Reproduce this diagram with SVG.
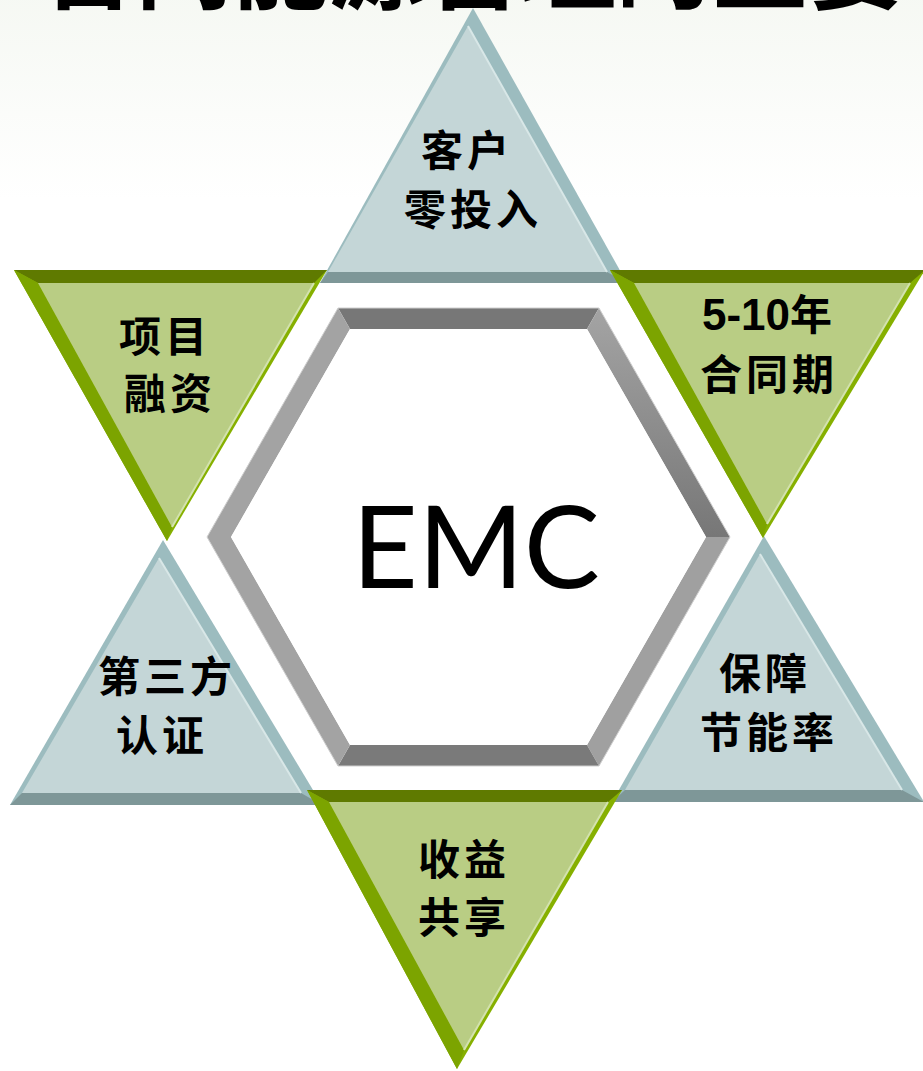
<svg xmlns="http://www.w3.org/2000/svg" width="923" height="1071" viewBox="0 0 923 1071">
<style>
.tf{fill:#c4d6d7}
.tb{fill:#9cbcbf}
.tbase{fill:#7e9798}
.thl{stroke:#d8e7e7;stroke-width:2;fill:none}
.gf{fill:#b9cd84}
.gr{fill:#86b000}
.gl{fill:#7ca400}
.gt{fill:#5f7a00}
.ghl{stroke:#d3e2ae;stroke-width:2;fill:none}
.lbl{font-family:"Noto Sans CJK SC","Noto Sans CJK TC",sans-serif;font-weight:bold;font-size:42px;letter-spacing:4px;fill:#000;text-anchor:middle}
.num{font-family:"Liberation Sans",Arial,sans-serif;font-weight:bold;font-size:44px;letter-spacing:0}
.title{font-family:"Noto Sans CJK SC",sans-serif;font-weight:bold;font-size:96px;fill:#000}
</style>
<defs>
<linearGradient id="bg" x1="0" y1="0" x2="0" y2="1">
<stop offset="0" stop-color="#eef3ea"/>
<stop offset="1" stop-color="#ffffff"/>
</linearGradient>
<linearGradient id="ur" x1="0" y1="0" x2="0" y2="1">
<stop offset="0" stop-color="#a4a4a4"/>
<stop offset="1" stop-color="#777777"/>
</linearGradient>
</defs>
<rect width="923" height="1071" fill="#ffffff"/>
<rect width="923" height="200" fill="url(#bg)" opacity="0.55"/>
<text class="title" x="40" y="1">合同能源管理的主要特点</text>

<g id="connectors"/>

<g id="emc">
<polygon points="338,308 599,308 587,329 350,329" fill="#777777"/>
<polygon points="599,308 730,537 706,537 587,329" fill="url(#ur)"/>
<polygon points="730,537 599,766 587,745 706,537" fill="#a0a0a0"/>
<polygon points="599,766 338,766 350,745 587,745" fill="#7a7a7a"/>
<polygon points="338,766 207,537 231,537 350,745" fill="#a3a3a3"/>
<polygon points="207,537 338,308 350,329 231,537" fill="#a3a3a3"/>
<polygon points="338,308 599,308 730,537 599,766 338,766 207,537" fill="none" stroke="#cfcfcf" stroke-width="1"/>
<polygon points="350,329 587,329 706,537 587,745 350,745 231,537" fill="#ffffff"/>
<text x="476" y="588" font-family="Lato,'Open Sans',sans-serif" font-size="114" fill="#000" text-anchor="middle">EMC</text>
</g>

<g id="t-top">
<polygon class="tb" points="473,8 320,283 627,283"/>
<polygon class="tbase" points="320,283 627,283 607,272 328,272"/>
<polygon class="tf" points="468,26 328,272 607,272"/>
<line class="thl" x1="468" y1="26" x2="607" y2="272"/>
<text class="lbl" x="467" y="166">客户</text>
<text class="lbl" x="473" y="225">零投入</text>
</g>

<g id="t-bottom-left">
<polygon class="tb" points="163,540 10,805 322,805"/>
<polygon class="tbase" points="10,805 322,805 301,793 22,793"/>
<polygon class="tf" points="159,558 22,793 301,793"/>
<line class="thl" x1="159" y1="558" x2="301" y2="793"/>
<text class="lbl" x="167" y="692">第三方</text>
<text class="lbl" x="162" y="751">认证</text>
</g>

<g id="t-bottom-right">
<polygon class="tb" points="764,536 612,802 924,802"/>
<polygon class="tbase" points="612,802 924,802 902,790 625,790"/>
<polygon class="tf" points="760,554 625,790 902,790"/>
<line class="thl" x1="760" y1="554" x2="902" y2="790"/>
<text class="lbl" x="765" y="689">保障</text>
<text class="lbl" x="769" y="748">节能率</text>
</g>

<g id="g-top-left">
<polygon class="gr" points="14,270 327,270 167,541"/>
<polygon class="gt" points="14,270 327,270 314,283 38,283"/>
<polygon class="gl" points="14,270 38,283 172,527 167,541"/>
<polygon class="gf" points="38,283 314,283 172,527"/>
<line class="ghl" x1="314" y1="283" x2="172" y2="527"/>
<text class="lbl" x="165" y="352">项目</text>
<text class="lbl" x="170" y="409">融资</text>
</g>

<g id="g-top-right">
<polygon class="gr" points="610,270 925,270 763,538"/>
<polygon class="gt" points="610,270 925,270 910,283 634,283"/>
<polygon class="gl" points="610,270 634,283 767,524 763,538"/>
<polygon class="gf" points="634,283 910,283 767,524"/>
<line class="ghl" x1="910" y1="283" x2="767" y2="524"/>
<text class="lbl" x="769" y="330"><tspan class="num">5-10</tspan>年</text>
<text class="lbl" x="769" y="390">合同期</text>
</g>

<g id="g-bottom">
<polygon class="gr" points="307,790 622,790 457,1069"/>
<polygon class="gt" points="307,790 622,790 608,802 329,802"/>
<polygon class="gl" points="307,790 329,802 464,1050 457,1069"/>
<polygon class="gf" points="329,802 608,802 464,1050"/>
<line class="ghl" x1="608" y1="802" x2="464" y2="1050"/>
<text class="lbl" x="464" y="875">收益</text>
<text class="lbl" x="464" y="933">共享</text>
</g>
</svg>
